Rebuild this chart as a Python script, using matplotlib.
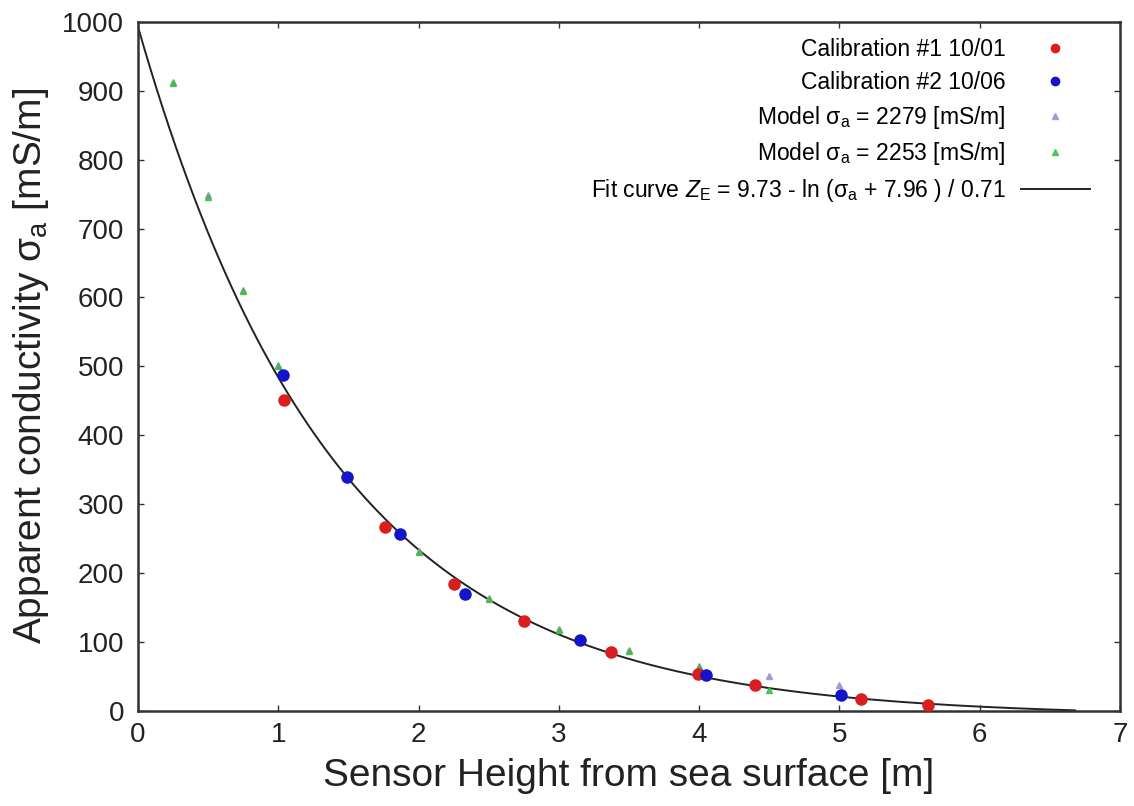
import numpy as np
import matplotlib.pyplot as plt

plt.rcParams['font.family'] = 'Liberation Sans'
plt.rcParams['mathtext.fontset'] = 'custom'
plt.rcParams['mathtext.rm'] = 'Liberation Sans'
plt.rcParams['mathtext.it'] = 'Liberation Sans:italic'

# Calibration #1 10/01
cal1_h = [1.04, 1.76, 2.25, 2.75, 3.37, 3.99, 4.40, 5.15, 5.63]
cal1_s = [451, 267, 184, 131, 85, 53, 38, 17, 8]

# Calibration #2 10/06
cal2_h = [1.03, 1.49, 1.87, 2.33, 3.15, 4.05, 5.01]
cal2_s = [487, 340, 256, 170, 103, 52, 23]

# Model points
model_h = [0.25, 0.5, 0.75, 1.0, 1.5, 2.0, 2.5, 3.0, 3.5, 4.0, 4.5, 5.0]
model1_s = [913, 748, 611, 502, 342, 232, 164, 119, 89, 65, 50, 38]   # 2279 mS/m
model2_s = [911, 746, 609, 500, 340, 230, 162, 117, 87, 63, 30, 22]   # 2253 mS/m

# Fit curve Z = a - ln(sigma + b) / c
fit_a, fit_b, fit_c = 9.73, 7.96, 0.71
fit_h = np.linspace(0, 6.68, 300)
fit_s = np.exp(fit_c * (fit_a - fit_h)) - fit_b

fig = plt.figure(figsize=(11.34, 8.06), dpi=100)
ax = fig.add_axes([0.1217, 0.118, 0.866, 0.855])

ax.plot(fit_h, fit_s, color='#222222', lw=1.4, zorder=2,
        label=r'Fit curve $Z_{\rm E}$ = 9.73 - ln (σ$_{\rm a}$ + 7.96 ) / 0.71')
ax.plot(model_h, model1_s, '^', color='#a898d8', ms=5, ls='none', zorder=3,
        label=r'Model σ$_{\rm a}$ = 2279 [mS/m]')
ax.plot(model_h, model2_s, '^', color='#3cbf3c', ms=5, ls='none', zorder=4, alpha=0.85,
        label=r'Model σ$_{\rm a}$ = 2253 [mS/m]')
ax.plot(cal1_h, cal1_s, 'o', color='#d81e1e', ms=8, ls='none', zorder=5,
        label='Calibration #1 10/01')
ax.plot(cal2_h, cal2_s, 'o', color='#1414c8', ms=8, ls='none', zorder=6,
        label='Calibration #2 10/06')

ax.set_xlim(0, 7)
ax.set_ylim(0, 1000)
ax.set_xticks(range(0, 8))
ax.set_yticks(range(0, 1001, 100))
ax.tick_params(direction='in', length=4, width=1, labelsize=20, top=True, right=True,
               color='#333333', labelcolor='#222222')
ax.tick_params(axis='x', pad=8)
ax.tick_params(axis='y', pad=10)
for sp in ax.spines.values():
    sp.set_linewidth(1.8)
    sp.set_color('#333333')

ax.set_xlabel('Sensor Height from sea surface [m]', fontsize=28, labelpad=7,
              color='#222222')
ax.set_ylabel(r'Apparent conductivity σ$_{\rm a}$ [mS/m]', fontsize=28,
              labelpad=8, color='#222222')

handles, labels = ax.get_legend_handles_labels()
order = [3, 4, 1, 2, 0]
ax.legend([handles[i] for i in order], [labels[i] for i in order],
          loc='upper right', bbox_to_anchor=(0.969, 0.976), frameon=False,
          markerfirst=False, fontsize=16.5, handlelength=3.0, handletextpad=0.65,
          labelspacing=0.42, borderaxespad=0, borderpad=0, markerscale=0.75,
          numpoints=1)

fig.savefig('out.png', dpi=100)
